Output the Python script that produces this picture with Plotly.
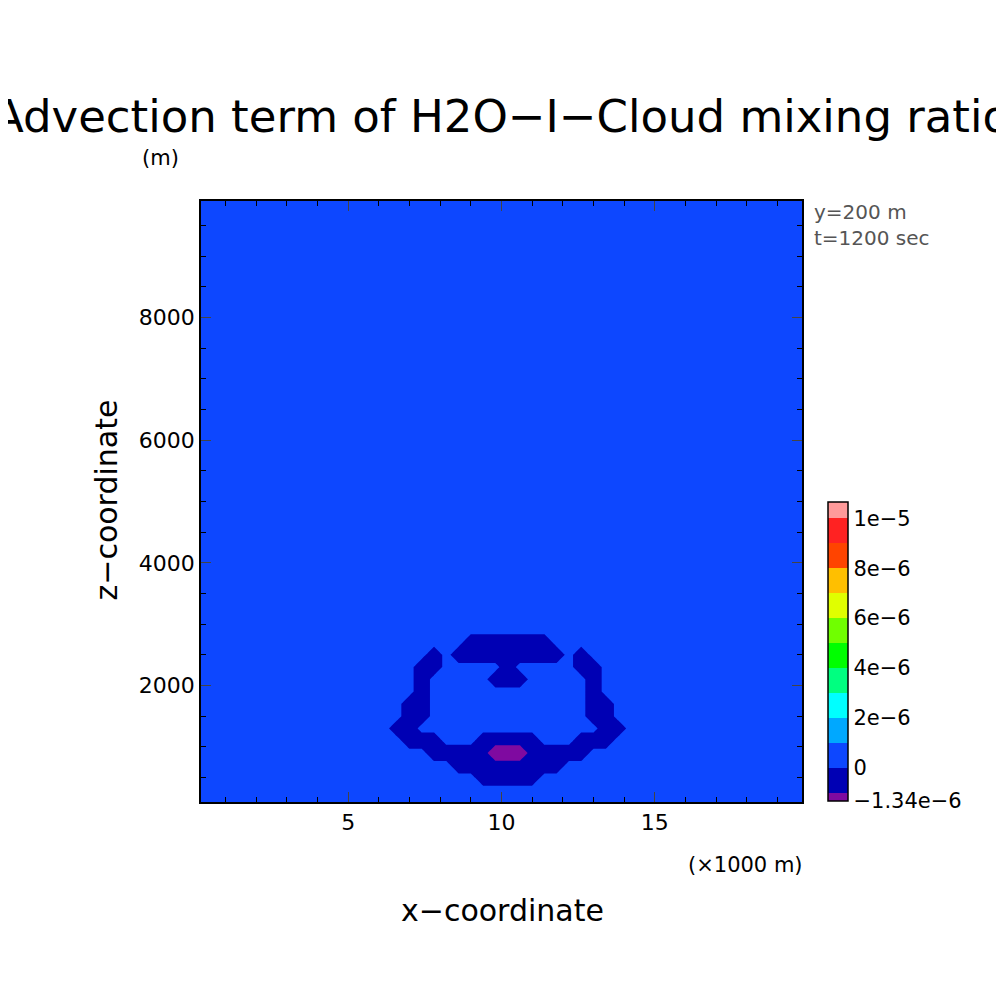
import numpy as np
import plotly.graph_objects as go

# grid (x in 1000 m, z in m)
x_vals = [round(0.2 + 0.4 * i, 1) for i in range(50)]
z_vals = [100 + 200 * j for j in range(50)]

# feature patch: columns x=6.2..14.2, rows z from 2900 down to 300
patch_x0 = 6.2
patch_rows_z = [2900, 2700, 2500, 2300, 2100, 1900, 1700, 1500, 1300, 1100, 900, 700, 500, 300]
patch_rows = [
    ".....................",
    ".......nnnnnnn.......",
    "....n.nnnnnnnnn.n....",
    "...nn.....n.....nn...",
    "...n.....nnn.....n...",
    "...n.............n...",
    "..nn.............nn..",
    "..nn.............nn..",
    ".nn...............nn.",
    "..nnn...nnnnn...nnn..",
    "....nnnnnpppnnnnn....",
    "......nnnnnnnnn......",
    "........nnnnn........",
    ".....................",
]
code_values = {".": 3e-7, "n": -6e-7, "p": -1.7e-6}
background = 3e-7

levels = [-1e-6, 0, 1e-6, 2e-6, 3e-6, 4e-6, 5e-6, 6e-6, 7e-6, 8e-6, 9e-6, 1e-5]
band_colors = ["#7f0aa0", "#0000b4", "#0d47ff", "#00a8ff", "#00ffff", "#00ff80",
               "#00ff00", "#70ff00", "#e0ff00", "#ffbf00", "#ff4400", "#ff2222", "#ff9a9a"]
cmin, cmax = -1.34e-6, 1.066e-5
tick_vals = [-1.34e-6, 0, 2e-6, 4e-6, 6e-6, 8e-6, 1e-5]
tick_text = ["\u22121.34e\u22126", "0", "2e\u22126", "4e\u22126", "6e\u22126", "8e\u22126", "1e\u22125"]

z = np.full((len(z_vals), len(x_vals)), background)
xi0 = x_vals.index(patch_x0)
for r, zz in enumerate(patch_rows_z):
    j = z_vals.index(zz)
    for c, ch in enumerate(patch_rows[r]):
        z[j, xi0 + c] = code_values[ch]

edges = [cmin] + levels + [cmax]
cs = []
for k, col in enumerate(band_colors):
    a = (edges[k] - cmin) / (cmax - cmin)
    b = (edges[k + 1] - cmin) / (cmax - cmin)
    cs.append([a, col]); cs.append([b, col])

W = H = 1004
OFF = 8  # page body margin
L, T = 201 - OFF, 201 - OFF
R, B = W - L - 601, H - T - 601
pw, ph = W - L - R, H - T - B

def px(xp): return (xp - OFF - L) / pw
def py(yp): return (H - (yp - OFF) - B) / ph

fig = go.Figure()
fig.add_trace(go.Contour(
    x=x_vals, y=z_vals, z=z, colorscale=cs, zmin=cmin, zmax=cmax, zauto=False,
    autocontour=False, contours=dict(start=levels[0], end=levels[-1], size=1e-6, coloring="fill"),
    line=dict(width=0, smoothing=0), showscale=False, hoverinfo="skip"))
fig.add_trace(go.Scatter(
    x=[None], y=[None], mode="markers", showlegend=False,
    marker=dict(color=[cmin, cmax], cmin=cmin, cmax=cmax, colorscale=cs,
                colorbar=dict(x=px(828), xanchor="left", xpad=0, y=py(801), yanchor="bottom", ypad=0,
                              lenmode="pixels", len=299, thickness=20, outlinecolor="black",
                              outlinewidth=1.5, tickvals=tick_vals, ticktext=tick_text,
                              ticks="", tickfont=dict(family="DejaVu Sans", size=21, color="black")))))

axfont = dict(family="DejaVu Sans", size=22, color="black")
fig.update_xaxes(range=[0.2, 19.8], tickvals=[5, 10, 15], ticks="inside", ticklen=10,
                 mirror="allticks", showline=True, linecolor="black", linewidth=1.5,
                 showgrid=False, zeroline=False, tickfont=axfont,
                 minor=dict(dtick=1, ticks="inside", ticklen=5, tickcolor="black"))
fig.update_yaxes(range=[100, 9900], tickvals=[2000, 4000, 6000, 8000], ticks="inside", ticklen=10,
                 mirror="allticks", showline=True, linecolor="black", linewidth=1.5,
                 showgrid=False, zeroline=False, tickfont=axfont,
                 minor=dict(tick0=0, dtick=500, ticks="inside", ticklen=5, tickcolor="black"))

f = "DejaVu Sans"
ann = [
    dict(x=501, y=117, text="Advection term of H2O\u2212I\u2212Cloud mixing ratio", size=45),
    dict(x=160, y=158, text="(m)", size=21),
    dict(x=745, y=865, text="(\u00d71000 m)", size=21),
    dict(x=502, y=910, text="x\u2212coordinate", size=30),
]
for a in ann:
    fig.add_annotation(x=px(a["x"]), y=py(a["y"]), xref="paper", yref="paper",
                       text=a["text"], showarrow=False, xanchor="center", yanchor="middle",
                       font=dict(family=f, size=a["size"], color="black"))
fig.add_annotation(x=px(812), y=py(198), xref="paper", yref="paper",
                   text="y=200 m<br>t=1200 sec", showarrow=False, xanchor="left", yanchor="top",
                   align="left", font=dict(family=f, size=20, color="#555555"))
fig.add_annotation(x=px(86), y=py(500), xref="paper", yref="paper",
                   text="z\u2212coordinate", showarrow=False, textangle=-90,
                   font=dict(family=f, size=30, color="black"))

fig.update_layout(width=W, height=H, margin=dict(l=L, r=R, t=T, b=B),
                  plot_bgcolor="white", paper_bgcolor="white", showlegend=False)
fig.write_html("out.html")
